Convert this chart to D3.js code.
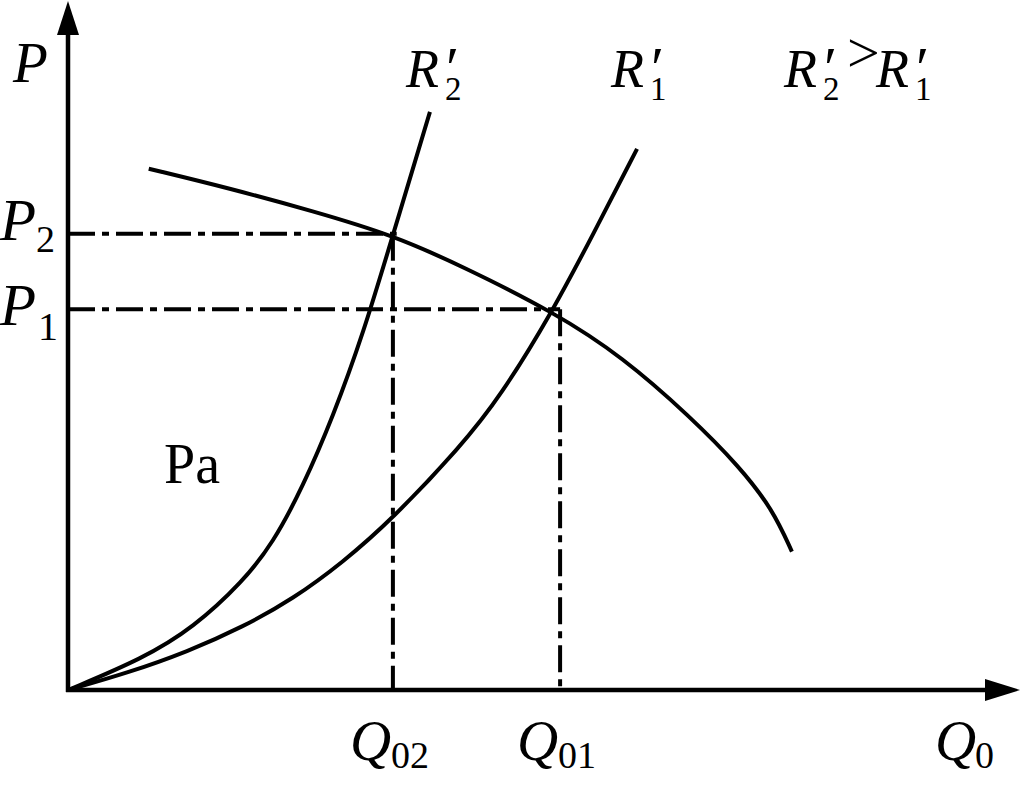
<!DOCTYPE html>
<html>
<head>
<meta charset="utf-8">
<script src="https://cdn.jsdelivr.net/npm/d3@7"></script>
<style>
  body { margin: 0; background: #fff; }
</style>
</head>
<body>
<svg id="chart" width="1021" height="788"></svg>
<script>
// curve points, in chart units (Q along x, P along y)
const r2Q = [0, 7.9, 13.2, 18.4, 21.6, 24.7, 27.9, 31.1, 34.2, 38.1];
const r2P = [0, 4.6, 9.1, 15.8, 21.5, 29.6, 39.9, 52.1, 66.4, 84.4];

const r1Q = [0, 6.3, 12.6, 18.4, 23.7, 28.9, 34.1, 41.3, 45.5, 51.1, 55.3, 59.9];
const r1P = [0, 2.5, 5.6, 9.2, 13.3, 18.6, 24.9, 35.5, 42.8, 55.5, 66.6, 79.0];

const paQ = [8.5, 17.1, 25.8, 34.2, 41.6, 51.1, 58.4, 65.5, 70.7, 74.2, 76.2];
const paP = [76.1, 73.2, 69.9, 66.4, 61.8, 55.2, 48.6, 39.9, 32.6, 26.3, 20.2];

// operating points
const pLevels = [66.6, 55.6];      // P2, P1
const qLevels = [34.2, 51.8];      // Q02, Q01
const hEnds = [34.6, 51.8];        // where the horizontal dash-dot lines stop

const svg = d3.select('#chart')
    .attr('font-family', '"Liberation Serif", "Times New Roman", Tinos, serif');

const x = d3.scaleLinear().domain([0, 100]).range([68, 1018]);
const y = d3.scaleLinear().domain([0, 100]).range([690, 5]);

const line = d3.line()
    .x(d => x(d[0]))
    .y(d => y(d[1]))
    .curve(d3.curveBasis);

const zip = (a, b) => a.map((v, i) => [v, b[i]]);

// dash-dot guide lines
let guides = svg.append('g')
    .attr('stroke', '#000')
    .attr('stroke-width', 4)
    .attr('stroke-dasharray', '27 7 7 7')
    .attr('fill', 'none');

pLevels.forEach((p, i) => {
    guides.append('line')
        .attr('x1', x(0)).attr('x2', x(hEnds[i]))
        .attr('y1', y(p)).attr('y2', y(p));
    guides.append('line')
        .attr('x1', x(qLevels[i])).attr('x2', x(qLevels[i]))
        .attr('y1', y(p)).attr('y2', y(0));
});

// curves
let curves = svg.append('g')
    .attr('stroke', '#000')
    .attr('stroke-width', 4)
    .attr('fill', 'none');

[zip(r2Q, r2P), zip(r1Q, r1P), zip(paQ, paP)].forEach(pts => {
    curves.append('path').attr('d', line(pts));
});

// axes with arrow heads
svg.append('line')
    .attr('x1', x(0)).attr('x2', x(0))
    .attr('y1', y(0) + 2).attr('y2', 30)
    .attr('stroke', '#000').attr('stroke-width', 4.5);
svg.append('line')
    .attr('x1', x(0) - 2).attr('x2', 990)
    .attr('y1', y(0)).attr('y2', y(0))
    .attr('stroke', '#000').attr('stroke-width', 4.5);

svg.append('path')
    .attr('d', `M${x(0)},1 L${x(0) - 11},35 L${x(0) + 11},35 Z`)
    .attr('fill', '#000');
svg.append('path')
    .attr('d', `M1020,${y(0)} L985,${y(0) - 11} L985,${y(0) + 11} Z`)
    .attr('fill', '#000');

// labels
let addText = (txt, px, py, size, italic) => {
    svg.append('text')
        .attr('x', px).attr('y', py)
        .attr('font-size', size)
        .attr('font-style', italic ? 'italic' : 'normal')
        .attr('fill', '#000')
        .text(txt);
};

// axis titles
addText('P', 13, 82, 57, true);
addText('Q', 935, 760, 57, true);
addText('0', 975, 768, 38, false);

// P2, P1
addText('P', 0, 240, 59, true);
addText('2', 36, 252, 38, false);
addText('P', 0, 325, 59, true);
addText('1', 38, 340, 40, false);

// Q02, Q01
addText('Q', 350, 760, 57, true);
addText('02', 391, 768, 38, false);
addText('Q', 517, 760, 57, true);
addText('01', 558, 768, 38, false);

// R2', R1'
let addR = (px, sub) => {
    addText('R', px, 87, 54, true);
    addText(sub, px + 39, 100, 33, false);
    addText('′', px + 40, 88, 60, false);
};
addR(406, '2');
addR(611, '1');

// R2' > R1'
addR(784, '2');
addText('>', 847, 72, 58, false);
addR(876, '1');

addText('Pa', 164, 483, 56, false);
</script>
</body>
</html>
